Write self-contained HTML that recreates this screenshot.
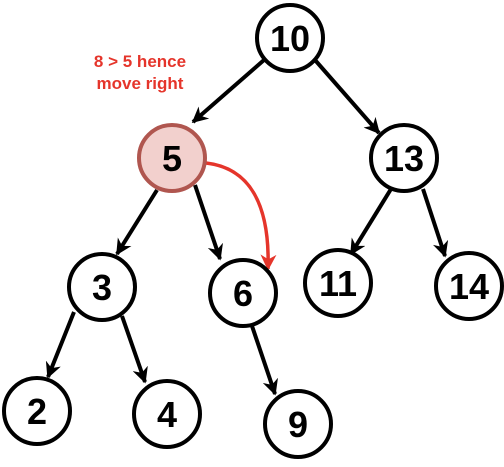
<!DOCTYPE html>
<html><head><style>body{margin:0;background:#fff}</style></head><body>
<svg width="504" height="462" viewBox="0 0 504 462" xmlns="http://www.w3.org/2000/svg">
<defs>
<marker id="a" markerWidth="16" markerHeight="16" refX="9" refY="5" orient="auto" markerUnits="userSpaceOnUse" viewBox="0 0 10 10"><path d="M0,0 L10,5 L0,10 L3,5 z" fill="#000"/></marker>
<marker id="r" markerWidth="16" markerHeight="16" refX="9" refY="5" orient="auto" markerUnits="userSpaceOnUse" viewBox="0 0 10 10"><path d="M0,0 L10,5 L0,10 L3,5 z" fill="#e5352b"/></marker>
</defs>
<g stroke="#000" stroke-width="4" fill="none" marker-end="url(#a)">
<line x1="264" y1="60" x2="193" y2="122"/>
<line x1="315" y1="60" x2="379" y2="133"/>
<line x1="157" y1="190" x2="117" y2="254"/>
<line x1="195" y1="185" x2="220" y2="259"/>
<line x1="391" y1="189" x2="351" y2="254"/>
<line x1="423" y1="189" x2="445" y2="256"/>
<line x1="74" y1="312" x2="48" y2="377"/>
<line x1="122" y1="316" x2="145" y2="382"/>
<line x1="252" y1="326" x2="275" y2="394"/>
</g>
<path d="M206,163 C250,168 270,205 268,269" stroke="#e5352b" stroke-width="3.5" fill="none" marker-end="url(#r)"/>
<g stroke-width="4" font-family="Liberation Sans, sans-serif" font-weight="bold" font-size="36" text-anchor="middle">
<circle cx="290" cy="38" r="33" fill="#fff" stroke="#000"/><text x="290" y="51">10</text>
<circle cx="172" cy="158" r="33" fill="#f2d0cd" stroke="#b0564f"/><text x="172" y="171">5</text>
<circle cx="404" cy="158" r="33" fill="#fff" stroke="#000"/><text x="404" y="171">13</text>
<circle cx="102" cy="287" r="33" fill="#fff" stroke="#000"/><text x="102" y="300">3</text>
<circle cx="243" cy="293" r="33" fill="#fff" stroke="#000"/><text x="243" y="306">6</text>
<circle cx="338" cy="283" r="33" fill="#fff" stroke="#000"/><text x="338" y="296">11</text>
<circle cx="469" cy="286" r="33" fill="#fff" stroke="#000"/><text x="469" y="299">14</text>
<circle cx="37" cy="411" r="33" fill="#fff" stroke="#000"/><text x="37" y="424">2</text>
<circle cx="167" cy="414" r="33" fill="#fff" stroke="#000"/><text x="167" y="427">4</text>
<circle cx="298" cy="424" r="33" fill="#fff" stroke="#000"/><text x="298" y="437">9</text>
</g>
<g fill="#e5352b" font-family="Liberation Sans, sans-serif" font-weight="bold" font-size="17" text-anchor="middle">
<text x="140" y="67">8 &gt; 5 hence</text>
<text x="140" y="89">move right</text>
</g>
</svg>
</body></html>
